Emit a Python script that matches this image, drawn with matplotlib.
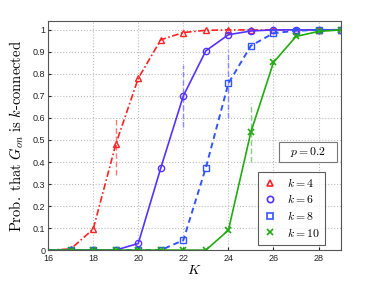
import matplotlib
matplotlib.use("Agg")
import matplotlib.pyplot as plt
from matplotlib.lines import Line2D
from matplotlib.patches import Rectangle
import numpy as np

plt.rcParams['mathtext.fontset'] = 'cm'

K = [16, 17, 18, 19, 20, 21, 22, 23, 24, 25, 26, 27, 28, 29]
p_k4 = [0, 0.005, 0.095, 0.48, 0.78, 0.955, 0.988, 0.998, 1, 1, 1, 1, 1, 1]
p_k6 = [0, 0, 0, 0, 0.03, 0.373, 0.70, 0.905, 0.978, 0.995, 1, 1, 1, 1]
p_k8 = [0, 0, 0, 0, 0, 0, 0.045, 0.374, 0.757, 0.928, 0.985, 0.996, 1, 1]
p_k10 = [0, 0, 0, 0, 0, 0, 0, 0, 0.09, 0.536, 0.852, 0.97, 0.993, 1]

# vertical interval marks: (x, ymin, ymax)
int_k4 = (19, 0.34, 0.605)
int_k6 = (22, 0.56, 0.84)
int_k8 = (24, 0.60, 0.91)
int_k10 = (25, 0.40, 0.67)

labels = ['$k=4$', '$k=6$', '$k=8$', '$k=10$']

fig = plt.figure(figsize=(3.76, 2.81), dpi=100)
ax = fig.add_axes([0.128, 0.11, 0.779, 0.815])

c4, c6, c8, c10 = '#ff2222', '#5533ff', '#3355ff', '#22aa11'

ax.vlines(int_k4[0], int_k4[1], int_k4[2], colors='#ff7777', linestyles=(0, (4, 2)), lw=1.0)
ax.vlines(int_k6[0], int_k6[1], int_k6[2], colors='#8888ff', linestyles=(0, (4, 2)), lw=1.0)
ax.vlines(int_k8[0], int_k8[1], int_k8[2], colors='#8888ff', linestyles=(0, (4, 2)), lw=1.0)
ax.vlines(int_k10[0], int_k10[1], int_k10[2], colors='#88cc88', linestyles=(0, (4, 2)), lw=1.0)

ms = 4.5
ax.plot(K, p_k4, color=c4, ls=(0, (4, 1.5, 1, 1.5)), lw=1.2, marker='^', mfc='none',
        mec=c4, ms=ms, markevery=slice(1, None))
ax.plot(K, p_k6, color=c6, ls='-', lw=1.2, marker='o', mfc='none',
        mec=c6, ms=ms, markevery=slice(1, None))
ax.plot(K, p_k8, color=c8, ls=(0, (3, 2)), lw=1.4, marker='s', mfc='none',
        mec=c8, ms=ms - 0.5, markevery=slice(1, None))
ax.plot(K, p_k10, color=c10, ls='-', lw=1.2, marker='x', mfc='none',
        mec=c10, ms=ms, mew=1.2, markevery=slice(1, None))

ax.set_xlim(16, 29)
ax.set_ylim(0, 1.04)
ax.set_xticks([16, 18, 20, 22, 24, 26, 28])
ax.set_yticks(np.arange(0, 1.01, 0.1))
ax.set_yticklabels(['0', '0.1', '0.2', '0.3', '0.4', '0.5', '0.6', '0.7', '0.8', '0.9', '1'])
ax.tick_params(labelsize=6.5, length=2, direction='in', colors='#222222')
ax.tick_params(axis='x', pad=3)
ax.tick_params(axis='y', pad=2)
for lab in ax.get_xticklabels() + ax.get_yticklabels():
    lab.set_family('Liberation Sans')
ax.grid(True, ls=':', color='#bbbbbb', lw=0.8)
for s in ax.spines.values():
    s.set_color('#555555')
    s.set_linewidth(0.8)

ax.set_xlabel('$K$', fontsize=10, labelpad=0)
ax.set_ylabel(r'$\mathrm{Prob.\ that\ }G_{on}\mathrm{\ is\ }k\mathrm{\text{-}connected}$',
              fontsize=10.5, labelpad=5)

handles = [Line2D([], [], ls='none', marker=m, mfc='none', mec=c, ms=ms, mew=1.2)
           for m, c in zip(['^', 'o', 's', 'x'], [c4, c6, c8, c10])]
leg = ax.legend(handles, labels, loc='lower right', bbox_to_anchor=(0.945, 0.023),
                borderaxespad=0, fontsize=8.5, frameon=True, fancybox=False,
                edgecolor='#333333', handlelength=1.2, borderpad=0.45,
                labelspacing=0.3, handletextpad=0.8)
leg.get_frame().set_linewidth(0.8)

ax.add_patch(Rectangle((0.788, 0.384), 0.198, 0.087, transform=ax.transAxes,
                       fc='white', ec='#777777', lw=0.8, zorder=5))
ax.text(0.887, 0.428, '$p=0.2$', transform=ax.transAxes, fontsize=8.5,
        ha='center', va='center', zorder=6)

fig.savefig('out.png', dpi=100)
